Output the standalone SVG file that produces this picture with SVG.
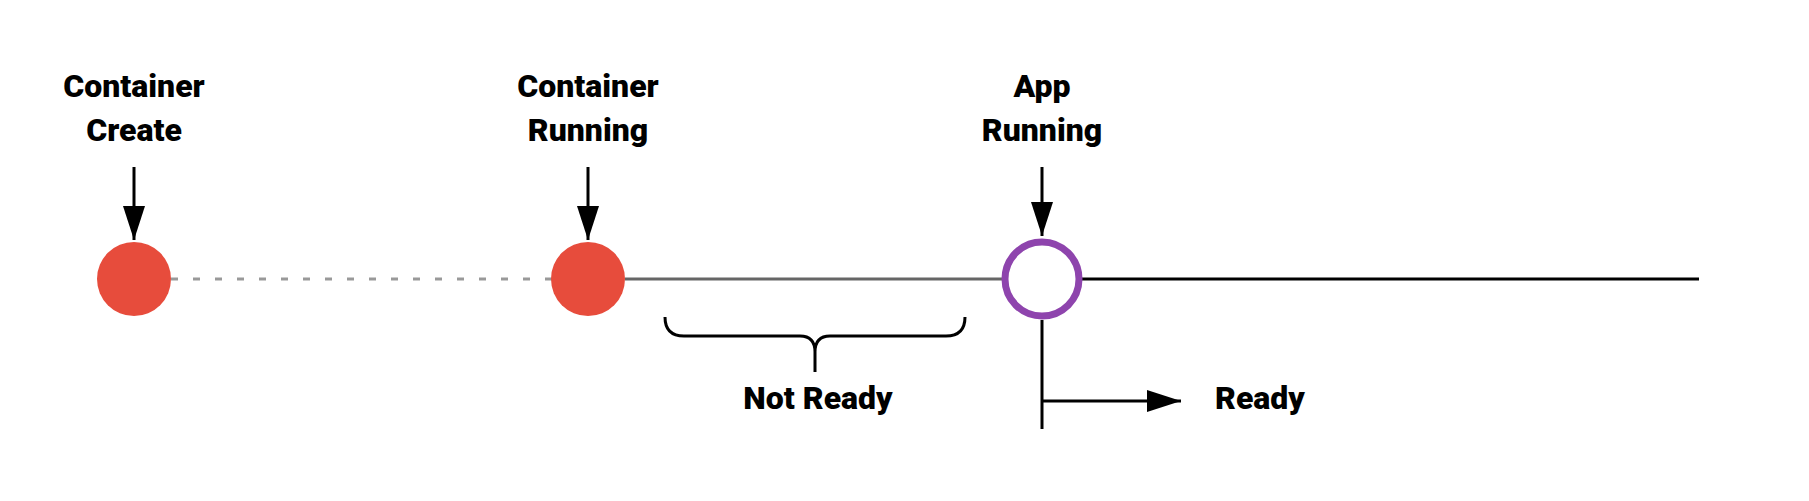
<svg xmlns="http://www.w3.org/2000/svg" width="1809" height="501" viewBox="0 0 1809 501">
<style>
.lbl{font-family:"Roboto","Liberation Sans",sans-serif;font-weight:900;font-size:32px;fill:#000;text-anchor:middle}
.pin{stroke:#000;stroke-width:3;fill:none}
</style>
<defs>
<marker id="ah" markerWidth="34" markerHeight="22" refX="34" refY="11" orient="auto" markerUnits="userSpaceOnUse">
<path d="M0,0 L34,11 L0,22 Z" fill="#000"/>
</marker>
</defs>
<rect width="1809" height="501" fill="#fff"/>
<g id="connectors">
<line x1="171" y1="279" x2="552" y2="279" stroke="#999" stroke-width="3" stroke-dasharray="7 15"/>
<line x1="625" y1="279" x2="1002" y2="279" stroke="#666" stroke-width="3"/>
<line x1="1082" y1="279" x2="1699" y2="279" stroke="#000" stroke-width="3"/>
<line class="pin" x1="134" y1="167" x2="134" y2="240" marker-end="url(#ah)"/>
<line class="pin" x1="588" y1="167" x2="588" y2="240" marker-end="url(#ah)"/>
<line class="pin" x1="1042" y1="167" x2="1042" y2="236" marker-end="url(#ah)"/>
<line class="pin" x1="1042" y1="320" x2="1042" y2="429" stroke-width="3.5"/>
<line class="pin" x1="1042" y1="401" x2="1181" y2="401" marker-end="url(#ah)"/>
<path class="pin" d="M665,317 Q665,336 684,336 L800,336 Q815,336 815,352 L815,372 M815,352 Q815,336 830,336 L946,336 Q965,336 965,317"/>
</g>
<g id="node-create">
<circle cx="134" cy="279" r="37" fill="#e74c3c"/>
<text class="lbl" x="134" y="97">Container</text>
<text class="lbl" x="134" y="141">Create</text>
</g>
<g id="node-running">
<circle cx="588" cy="279" r="37" fill="#e74c3c"/>
<text class="lbl" x="588" y="97">Container</text>
<text class="lbl" x="588" y="141">Running</text>
</g>
<g id="node-app">
<circle cx="1042" cy="279" r="37" fill="#fff" stroke="#8e44ad" stroke-width="7"/>
<text class="lbl" x="1042" y="97">App</text>
<text class="lbl" x="1042" y="141">Running</text>
</g>
<g id="label-notready">
<text class="lbl" x="818" y="409">Not Ready</text>
</g>
<g id="label-ready">
<text class="lbl" x="1260" y="409">Ready</text>
</g>
</svg>
